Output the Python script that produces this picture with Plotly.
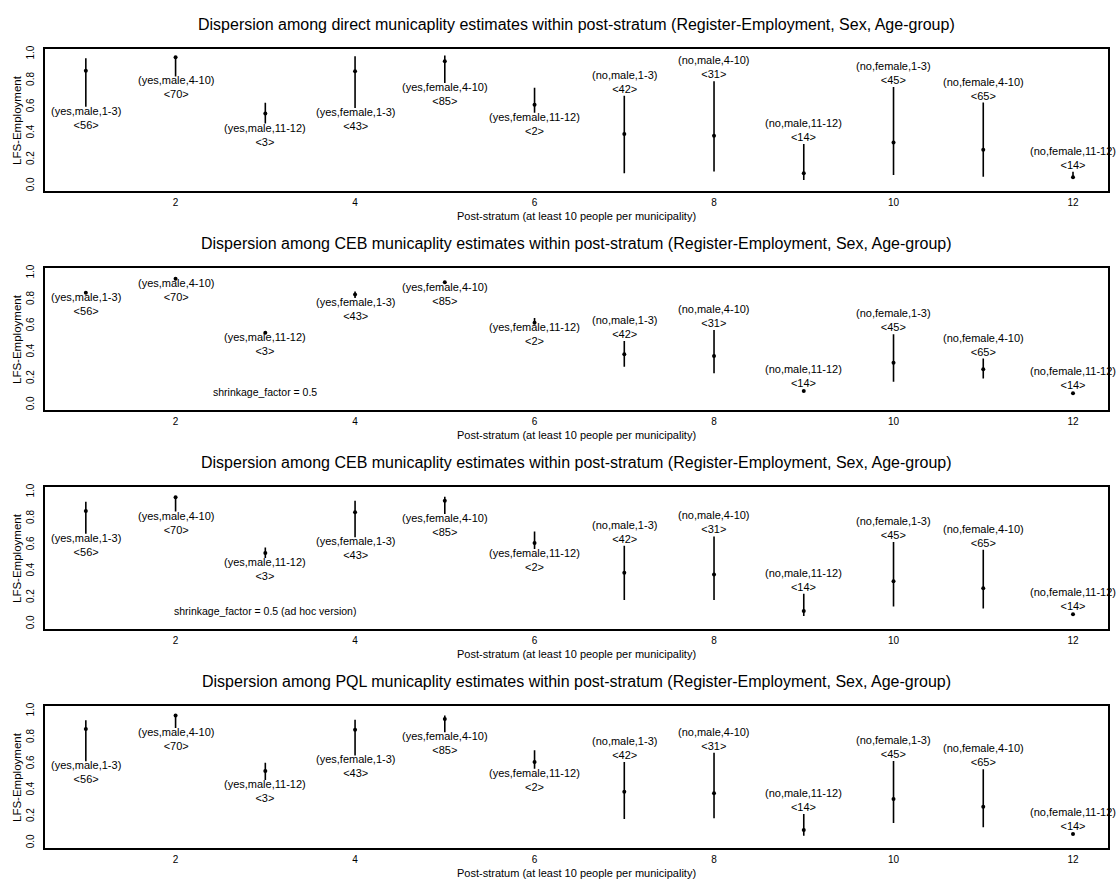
import plotly.graph_objects as go

# ---------------- data ----------------
strata = list(range(1, 13))
strata_labels = [
    "(yes,male,1-3)", "(yes,male,4-10)", "(yes,male,11-12)",
    "(yes,female,1-3)", "(yes,female,4-10)", "(yes,female,11-12)",
    "(no,male,1-3)", "(no,male,4-10)", "(no,male,11-12)",
    "(no,female,1-3)", "(no,female,4-10)", "(no,female,11-12)",
]
n_municipalities = [56, 70, 3, 43, 85, 2, 42, 31, 14, 45, 65, 14]
register_employed = ["yes"] * 6 + ["no"] * 6

panel_titles = [
    "Dispersion among direct municaplity estimates within post-stratum (Register-Employment, Sex, Age-group)",
    "Dispersion among CEB municaplity estimates within post-stratum (Register-Employment, Sex, Age-group)",
    "Dispersion among CEB municaplity estimates within post-stratum (Register-Employment, Sex, Age-group)",
    "Dispersion among PQL municaplity estimates within post-stratum (Register-Employment, Sex, Age-group)",
]
panel_notes = ["", "shrinkage_factor = 0.5", "shrinkage_factor = 0.5 (ad hoc version)", ""]

direct_mid = [0.874, 0.975, 0.550, 0.869, 0.945, 0.616, 0.394, 0.381, 0.095, 0.330, 0.274, 0.065]
direct_lo  = [0.601, 0.830, 0.473, 0.591, 0.780, 0.555, 0.096, 0.109, 0.044, 0.083, 0.070, 0.062]
direct_hi  = [0.969, 0.985, 0.631, 0.984, 0.990, 0.744, 0.683, 0.793, 0.317, 0.750, 0.632, 0.108]

ceb_mid = [0.851, 0.957, 0.548, 0.838, 0.931, 0.624, 0.384, 0.371, 0.106, 0.320, 0.270, 0.089]
ceb_lo  = [0.845, 0.952, 0.543, 0.810, 0.926, 0.620, 0.290, 0.240, 0.100, 0.175, 0.200, 0.084]
ceb_hi  = [0.857, 0.962, 0.553, 0.860, 0.936, 0.660, 0.485, 0.568, 0.112, 0.535, 0.351, 0.094]

cebadhoc_mid = [0.857, 0.960, 0.538, 0.847, 0.935, 0.613, 0.387, 0.374, 0.098, 0.324, 0.271, 0.073]
cebadhoc_lo  = [0.683, 0.852, 0.500, 0.658, 0.834, 0.568, 0.181, 0.181, 0.060, 0.131, 0.116, 0.068]
cebadhoc_hi  = [0.927, 0.965, 0.580, 0.935, 0.965, 0.700, 0.593, 0.663, 0.229, 0.621, 0.563, 0.080]

pql_mid = [0.864, 0.967, 0.545, 0.859, 0.940, 0.613, 0.387, 0.377, 0.098, 0.332, 0.274, 0.068]
pql_lo  = [0.620, 0.872, 0.477, 0.663, 0.839, 0.563, 0.181, 0.186, 0.055, 0.151, 0.118, 0.063]
pql_hi  = [0.930, 0.972, 0.608, 0.935, 0.967, 0.703, 0.613, 0.683, 0.219, 0.621, 0.558, 0.075]

panels = [
    (direct_mid, direct_lo, direct_hi),
    (ceb_mid, ceb_lo, ceb_hi),
    (cebadhoc_mid, cebadhoc_lo, cebadhoc_hi),
    (pql_mid, pql_lo, pql_hi),
]

y_ticks = [0.0, 0.2, 0.4, 0.6, 0.8, 1.0]
x_ticks = [2, 4, 6, 8, 10, 12]

# ---------------- layout ----------------
W, H = 1118, 880
FONT = "Liberation Sans, Arial, Helvetica, sans-serif"
box_top, box_bot, step = 45, 188, 220

fig = go.Figure()
annotations = []
layout_axes = {}

for k, (mid, lo, hi) in enumerate(panels):
    sfx = "" if k == 0 else str(k + 1)
    xa, ya = "x" + sfx, "y" + sfx
    fig.add_trace(go.Scatter(
        x=strata, y=mid, xaxis=xa, yaxis=ya, mode="markers",
        marker=dict(color="black", size=4),
        error_y=dict(type="data", symmetric=False,
                     array=[h - m for h, m in zip(hi, mid)],
                     arrayminus=[m - l for m, l in zip(mid, lo)],
                     color="black", thickness=1.6, width=0),
        showlegend=False, hoverinfo="skip",
    ))
    y0 = 1 - (box_bot + step * k) / H
    y1 = 1 - (box_top + step * k) / H
    layout_axes["xaxis" + sfx] = dict(
        domain=[0, 1], anchor=ya, range=[0.545, 12.39],
        tickvals=x_ticks, ticktext=[str(v) for v in x_ticks],
        showgrid=False, zeroline=False, showline=True, mirror=True,
        linecolor="black", linewidth=1.6, ticks="", ticklabelstandoff=1,
        tickfont=dict(family=FONT, size=10, color="black"),
    )
    layout_axes["yaxis" + sfx] = dict(
        domain=[y0, y1], anchor=xa, range=[-0.04, 1.04],
        tickvals=y_ticks, ticktext=["%.1f" % v for v in y_ticks], tickangle=-90,
        showgrid=False, zeroline=False, showline=True, mirror=True,
        linecolor="black", linewidth=1.6, ticks="", ticklabelstandoff=5,
        tickfont=dict(family=FONT, size=10, color="black"),
    )
    # title
    annotations.append(dict(
        text=panel_titles[k], xref="paper", yref="paper", x=0.5,
        y=1 - (21 + step * k) / H, xanchor="center", yanchor="middle",
        showarrow=False, font=dict(family=FONT, size=16, color="black")))
    # x axis title
    annotations.append(dict(
        text="Post-stratum (at least 10 people per municipality)",
        xref="paper", yref="paper", x=0.5, y=1 - (213 + step * k) / H,
        xanchor="center", yanchor="middle", showarrow=False,
        font=dict(family=FONT, size=11, color="black")))
    # y axis title
    annotations.append(dict(
        text="LFS-Employment", xref="paper", yref="paper", x=0, xshift=-28,
        y=(y0 + y1) / 2, xanchor="center", yanchor="middle", textangle=-90,
        showarrow=False, font=dict(family=FONT, size=11.5, color="black")))
    # stratum labels
    for i, s in enumerate(strata):
        txt = strata_labels[i] + "<br>&lt;" + str(n_municipalities[i]) + "&gt;"
        if register_employed[i] == "yes":
            annotations.append(dict(
                text=txt, x=s, y=lo[i], xref=xa, yref=ya, xanchor="center",
                yanchor="top", yshift=4, showarrow=False, align="center",
                font=dict(family=FONT, size=11, color="black")))
        else:
            annotations.append(dict(
                text=txt, x=s, y=hi[i], xref=xa, yref=ya, xanchor="center",
                yanchor="bottom", yshift=-1, showarrow=False, align="center",
                font=dict(family=FONT, size=11, color="black")))
    if panel_notes[k]:
        annotations.append(dict(
            text=panel_notes[k], x=3.0, y=0.1, xref=xa, yref=ya,
            xanchor="center", yanchor="middle", showarrow=False,
            font=dict(family=FONT, size=10.5, color="black")))

fig.update_layout(
    width=W, height=H, margin=dict(l=45, r=10, t=0, b=0),
    paper_bgcolor="white", plot_bgcolor="white",
    annotations=annotations, **layout_axes,
)

fig.write_html(
    "out.html",
    config={"displayModeBar": False},
    post_script="document.body.style.margin='0';document.body.style.overflow='hidden';",
)
